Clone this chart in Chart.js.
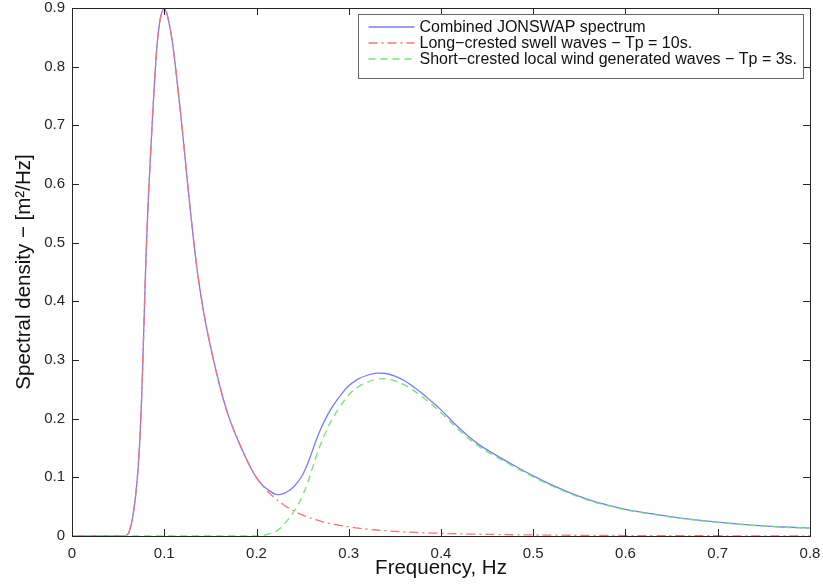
<!DOCTYPE html>
<html>
<head>
<meta charset="utf-8">
<script src="https://cdn.jsdelivr.net/npm/chart.js@4.4.1/dist/chart.umd.min.js"></script>
<style>
  body { margin: 0; background: #fff; }
  canvas { display: block; }
</style>
</head>
<body>
<canvas id="grafico" width="823" height="586"></canvas>
<script>
// frecuencias (Hz)
const frecuencias = [
  0, 0.02, 0.04, 0.055, 0.06, 0.0625, 0.065, 0.0675, 0.07, 0.0725,
  0.075, 0.0775, 0.08, 0.0825, 0.085, 0.0875, 0.09, 0.0925, 0.095, 0.0975,
  0.1, 0.1025, 0.105, 0.1075, 0.11, 0.115, 0.12, 0.125, 0.13, 0.135,
  0.14, 0.145, 0.15, 0.155, 0.16, 0.165, 0.17, 0.175, 0.18, 0.185,
  0.19, 0.195, 0.2, 0.205, 0.21, 0.215, 0.22, 0.225, 0.23, 0.235,
  0.24, 0.245, 0.25, 0.255, 0.26, 0.265, 0.27, 0.275, 0.28, 0.285,
  0.29, 0.3, 0.31, 0.32, 0.33, 0.34, 0.35, 0.36, 0.37, 0.38,
  0.39, 0.4, 0.42, 0.44, 0.46, 0.48, 0.5, 0.52, 0.54, 0.56,
  0.58, 0.6, 0.63, 0.66, 0.7, 0.74, 0.77, 0.8
];

// espectro combinado
const combinado = [
  0, 0, 0, 0, 0.002, 0.01, 0.025, 0.05, 0.085, 0.135,
  0.215, 0.335, 0.465, 0.565, 0.645, 0.72, 0.787, 0.842, 0.875, 0.893,
  0.899, 0.892, 0.876, 0.855, 0.828, 0.76, 0.686, 0.606, 0.53, 0.462,
  0.407, 0.362, 0.324, 0.289, 0.257, 0.228, 0.203, 0.182, 0.163, 0.145,
  0.128, 0.1125, 0.0995, 0.089, 0.0818, 0.076, 0.0715, 0.0705, 0.0725, 0.077,
  0.0835, 0.0925, 0.1045, 0.1215, 0.1425, 0.1645, 0.1835, 0.2, 0.2145, 0.2265,
  0.2375, 0.256, 0.2675, 0.274, 0.2775, 0.277, 0.2725, 0.265, 0.2545, 0.2425,
  0.229, 0.215, 0.1835, 0.157, 0.1375, 0.1195, 0.1025, 0.087, 0.0735, 0.062,
  0.053, 0.0455, 0.0375, 0.0305, 0.0235, 0.018, 0.0153, 0.0135
];

// mar de fondo (swell), Tp = 10 s
const mar_fondo = [
  0, 0, 0, 0, 0.002, 0.01, 0.025, 0.05, 0.085, 0.135,
  0.215, 0.335, 0.465, 0.565, 0.645, 0.72, 0.787, 0.842, 0.875, 0.893,
  0.899, 0.892, 0.876, 0.855, 0.828, 0.76, 0.686, 0.606, 0.53, 0.462,
  0.407, 0.362, 0.324, 0.289, 0.257, 0.228, 0.203, 0.182, 0.163, 0.145,
  0.128, 0.1125, 0.0995, 0.089, 0.0798, 0.0715, 0.0645, 0.058, 0.0525, 0.0475,
  0.043, 0.039, 0.0355, 0.0325, 0.0298, 0.0273, 0.025, 0.023, 0.0212, 0.0196,
  0.0181, 0.0155, 0.0134, 0.0117, 0.0102, 0.009, 0.008, 0.0071, 0.0063, 0.0056,
  0.005, 0.0045, 0.0037, 0.003, 0.0025, 0.0021, 0.0018, 0.0015, 0.0013, 0.0011,
  0.0009, 0.0008, 0.0007, 0.0006, 0.0004, 0.0003, 0.0003, 0.0002
];

// oleaje local de viento, Tp = 3 s
const viento_local = [
  0, 0, 0, 0, 0, 0, 0, 0, 0, 0,
  0, 0, 0, 0, 0, 0, 0, 0, 0, 0,
  0, 0, 0, 0, 0, 0, 0, 0, 0, 0,
  0, 0, 0, 0, 0, 0, 0, 0, 0, 0,
  0, 0, 0, 0, 0.002, 0.0045, 0.007, 0.0125, 0.02, 0.0295,
  0.0405, 0.0535, 0.069, 0.089, 0.1127, 0.1372, 0.1585, 0.177, 0.1933, 0.2069,
  0.2194, 0.2405, 0.2541, 0.2623, 0.2673, 0.268, 0.2645, 0.2579, 0.2482, 0.2369,
  0.224, 0.2105, 0.1798, 0.154, 0.135, 0.1174, 0.1007, 0.0855, 0.0722, 0.0609,
  0.0521, 0.0447, 0.0368, 0.0299, 0.0231, 0.0177, 0.015, 0.0133
];

const etiquetas = [
  'Combined JONSWAP spectrum',
  'Long\u2212crested swell waves \u2212 Tp = 10s.',
  'Short\u2212crested local wind generated waves \u2212 Tp = 3s.'
];

const ticks_x = [0, 0.1, 0.2, 0.3, 0.4, 0.5, 0.6, 0.7, 0.8];
const etiquetas_x = ['0', '0.1', '0.2', '0.3', '0.4', '0.5', '0.6', '0.7', '0.8'];
const ticks_y = [0, 0.1, 0.2, 0.3, 0.4, 0.5, 0.6, 0.7, 0.8, 0.9];
const etiquetas_y = ['0', '0.1', '0.2', '0.3', '0.4', '0.5', '0.6', '0.7', '0.8', '0.9'];

const fuente = '"Liberation Sans", Arial, Helvetica, sans-serif';

function puntos(valores) {
  return frecuencias.map((f, i) => ({ x: f, y: valores[i] }));
}

// marco del eje con marcas hacia dentro (estilo MATLAB)
const marcoEjes = {
  id: 'marcoEjes',
  afterDatasetsDraw(chart) {
    const { ctx, chartArea: a, scales: { x, y } } = chart;
    const largo = 7;
    ctx.save();
    ctx.strokeStyle = '#262626';
    ctx.lineWidth = 1;
    ctx.setLineDash([]);
    ctx.beginPath();
    x.ticks.forEach(t => {
      const px = Math.round(x.getPixelForValue(t.value)) + 0.5;
      ctx.moveTo(px, a.bottom); ctx.lineTo(px, a.bottom - largo);
      ctx.moveTo(px, a.top); ctx.lineTo(px, a.top + largo);
    });
    y.ticks.forEach(t => {
      const py = Math.round(y.getPixelForValue(t.value)) + 0.5;
      ctx.moveTo(a.left, py); ctx.lineTo(a.left + largo, py);
      ctx.moveTo(a.right, py); ctx.lineTo(a.right - largo, py);
    });
    ctx.stroke();
    ctx.strokeRect(Math.round(a.left) + 0.5, Math.round(a.top) + 0.5,
      Math.round(a.right - a.left), Math.round(a.bottom - a.top));
    ctx.restore();
  }
};

// leyenda dentro del area, arriba a la derecha
const leyenda = {
  id: 'leyenda',
  afterDraw(chart) {
    const { ctx, chartArea: a } = chart;
    const sets = chart.data.datasets;
    ctx.save();
    ctx.font = '16px ' + fuente;
    const anchoTexto = Math.max(...sets.map(d => ctx.measureText(d.label).width));
    const ancho = Math.round(10 + 46 + 5 + anchoTexto + 6);
    const alto = 64;
    const x0 = Math.round(a.right - 7 - ancho) + 0.5;
    const y0 = Math.round(a.top + 6) + 0.5;
    ctx.fillStyle = '#fff';
    ctx.fillRect(x0, y0, ancho, alto);
    ctx.strokeStyle = '#666';
    ctx.lineWidth = 1;
    ctx.strokeRect(x0, y0, ancho, alto);
    sets.forEach((d, i) => {
      const yy = y0 + 12.5 + i * 16;
      ctx.strokeStyle = d.borderColor;
      ctx.lineWidth = d.borderWidth;
      ctx.setLineDash(d.borderDash || []);
      ctx.beginPath();
      ctx.moveTo(x0 + 10, yy);
      ctx.lineTo(x0 + 56, yy);
      ctx.stroke();
      ctx.setLineDash([]);
      ctx.fillStyle = '#111';
      ctx.textBaseline = 'middle';
      ctx.fillText(d.label, x0 + 61, yy + 0.5);
    });
    ctx.restore();
  }
};

const ctx = document.getElementById('grafico').getContext('2d');
const grafico = new Chart(ctx, {
  type: 'line',
  data: {
    datasets: [{
      label: etiquetas[0],
      data: puntos(combinado),
      borderColor: '#7a7aff',
      borderWidth: 1.3,
      order: 3
    }, {
      label: etiquetas[1],
      data: puntos(mar_fondo),
      borderColor: '#ff7272',
      borderWidth: 1.3,
      borderDash: [9, 4, 2, 4],
      order: 2
    }, {
      label: etiquetas[2],
      data: puntos(viento_local),
      borderColor: '#6ee86e',
      borderWidth: 1.3,
      borderDash: [7, 5],
      order: 1
    }]
  },
  options: {
    responsive: false,
    animation: false,
    devicePixelRatio: 1,
    parsing: false,
    layout: { padding: { top: 8, right: 13, left: 0, bottom: 0 } },
    elements: {
      point: { radius: 0 },
      line: { tension: 0.4, fill: false }
    },
    plugins: {
      legend: { display: false },
      tooltip: { enabled: false }
    },
    scales: {
      x: {
        type: 'linear',
        min: 0,
        max: 0.8,
        grid: { display: false, drawTicks: false },
        border: { display: false },
        afterBuildTicks: s => { s.ticks = ticks_x.map(v => ({ value: v })); },
        afterFit: s => { s.height = 50; s.paddingLeft = 0; s.paddingRight = 0; },
        ticks: {
          padding: 9,
          color: '#262626',
          font: { family: fuente, size: 15 },
          maxRotation: 0,
          callback: (v, i) => etiquetas_x[i]
        },
        title: {
          display: true,
          text: 'Frequency, Hz',
          color: '#111',
          font: { family: fuente, size: 20.5 },
          padding: { top: 0, bottom: 5 }
        }
      },
      y: {
        type: 'linear',
        min: 0,
        max: 0.9,
        grid: { display: false, drawTicks: false },
        border: { display: false },
        afterBuildTicks: s => { s.ticks = ticks_y.map(v => ({ value: v })); },
        afterFit: s => { s.width = 72; s.paddingTop = 0; s.paddingBottom = 0; },
        ticks: {
          padding: 7,
          color: '#262626',
          font: { family: fuente, size: 15 },
          callback: (v, i) => etiquetas_y[i]
        },
        title: {
          display: true,
          text: 'Spectral density \u2212 [m\u00b2/Hz]',
          color: '#111',
          font: { family: fuente, size: 20.5 },
          padding: { top: 12, bottom: 0 }
        }
      }
    }
  },
  plugins: [marcoEjes, leyenda]
});
</script>
</body>
</html>
